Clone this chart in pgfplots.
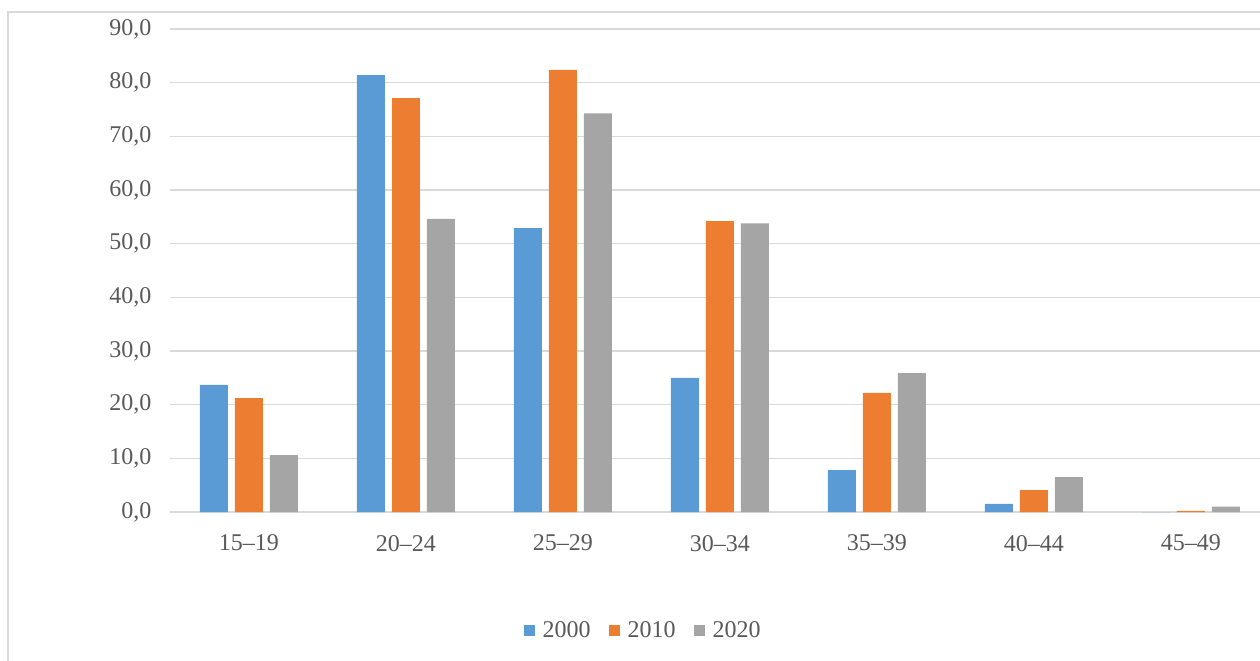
\documentclass[border=0pt]{standalone}
\usepackage{pgfplots}
\pgfplotsset{compat=1.18}
\usepackage{fontspec}
\setmainfont{Liberation Serif}
\definecolor{cblue}{HTML}{5B9BD5}
\definecolor{corange}{HTML}{ED7D31}
\definecolor{cgray}{HTML}{A5A5A5}
\definecolor{gridc}{HTML}{D9D9D9}
\definecolor{txt}{HTML}{595959}
\begin{document}
\begin{tikzpicture}
\useasboundingbox (0pt,0pt) rectangle (630pt,330pt);
\clip (0pt,0pt) rectangle (630pt,330pt);
\draw[gridc, line width=0.8pt] (4pt,-20pt) rectangle (650pt,324pt);
\begin{axis}[
  at={(85.25pt,74pt)}, anchor=south west,
  scale only axis, width=549.5pt, height=241.5pt,
  ybar, bar width=14pt, ybar=3.5pt,
  xmin=-0.5, xmax=6.5, ymin=0, ymax=90,
  xtick={0,...,6},
  xticklabels={15--19,20--24,25--29,30--34,35--39,40--44,45--49},
  ytick={0,10,...,90},
  axis x line*=bottom, axis y line*=left,
  x axis line style={gridc, line width=0.8pt, -},
  y axis line style={draw=none},
  major tick length=0pt,
  ymajorgrids, grid style={gridc, line width=0.8pt},
  tick label style={font=\fontsize{12}{14}\selectfont, text=txt},
  y tick label style={anchor=east, xshift=-6pt,
    /pgf/number format/fixed, /pgf/number format/fixed zerofill,
    /pgf/number format/precision=1, /pgf/number format/use comma,
    /pgf/number format/assume math mode=true},
  xticklabel style={anchor=north, yshift=-8pt},
  legend style={at={(rel axis cs:0.431,-0.246)}, anchor=center, draw=none, fill=none,
    legend columns=3, font=\fontsize{12}{14}\selectfont, text=txt,
    /tikz/every odd column/.append style={column sep=2pt},
    /tikz/every even column/.append style={column sep=7pt}},
  legend image code/.code={\fill[#1] (0pt,-2.75pt) rectangle (5.5pt,2.75pt);},
  clip=false,
]
\addplot[fill=cblue, draw=none] coordinates {(0,23.7) (1,81.4) (2,52.9) (3,25.0) (4,7.8) (5,1.5) (6,0)};
\addplot[fill=corange, draw=none] coordinates {(0,21.2) (1,77.1) (2,82.4) (3,54.2) (4,22.2) (5,4.1) (6,0.2)};
\addplot[fill=cgray, draw=none] coordinates {(0,10.6) (1,54.6) (2,74.3) (3,53.8) (4,25.9) (5,6.5) (6,1.0)};
\legend{2000,2010,2020}
\end{axis}
\end{tikzpicture}
\end{document}
